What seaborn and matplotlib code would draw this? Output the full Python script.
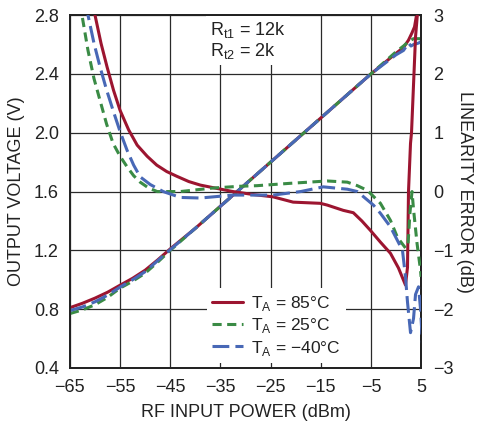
import matplotlib
matplotlib.use("Agg")
import matplotlib.pyplot as plt
import seaborn as sns

# output voltage (left axis, V)
x_red_v = [-65, -62.5, -60, -57.5, -55, -52.5, -50, -47.5, -45, -40, -35, -30, -25, -20, -15, -10, -5, 0,
           1.5, 2.5, 3.2, 3.7, 4.1, 4.4]
v_red = [0.81, 0.84, 0.875, 0.915, 0.963, 1.01, 1.065, 1.135, 1.21, 1.35, 1.50, 1.65, 1.80, 1.95, 2.10,
         2.25, 2.40, 2.54, 2.58, 2.63, 2.68, 2.72, 2.80, 2.90]
x_grn_v = [-65, -62.5, -60, -57.5, -55, -52.5, -50, -47.5, -45, -40, -35, -30, -25, -20, -15, -10, -5, 0,
           1.5, 2.5, 3.5, 5]
v_grn = [0.77, 0.795, 0.83, 0.88, 0.943, 0.99, 1.045, 1.12, 1.20, 1.35, 1.50, 1.65, 1.80, 1.95, 2.10,
         2.25, 2.40, 2.55, 2.59, 2.62, 2.64, 2.64]
x_blu_v = [-65, -62.5, -60, -57.5, -55, -52.5, -50, -47.5, -45, -40, -35, -30, -25, -20, -15, -10, -5, 0,
           1.5, 2.5, 3.0, 3.5, 4.5, 5]
v_blu = [0.79, 0.815, 0.85, 0.895, 0.95, 1.0, 1.055, 1.13, 1.205, 1.35, 1.50, 1.65, 1.80, 1.95, 2.10,
         2.25, 2.40, 2.53, 2.56, 2.61, 2.59, 2.60, 2.61, 2.62]

# linearity error (right axis, dB)
x_red_e = [-60.3, -60, -58.8, -57.6, -56.3, -55, -53.3, -51.6, -49.6, -47.7, -45.7, -43.7, -41.3, -39,
           -35.5, -32.5, -28.5, -24.5, -20.5, -15.1, -13.7, -10.5, -8.5, -6.8, -5.1, -3.1, -1.1, 0.5, 1.9,
           2.3, 2.5, 2.9, 3.1, 3.9, 4.5]
e_red = [3.2, 3.0, 2.52, 2.12, 1.72, 1.38, 1.05, 0.79, 0.6, 0.45, 0.34, 0.26, 0.17, 0.11,
         0.05, 0.0, -0.05, -0.09, -0.18, -0.2, -0.23, -0.32, -0.36, -0.5, -0.66, -0.86, -1.05, -1.3, -1.59,
         -1.29, 0.0, 0.82, 1.0, 2.63, 3.25]
x_grn_e = [-62.8, -62.6, -61.4, -60.2, -59, -57.7, -56.4, -55, -53.6, -52.3, -51, -49.3, -47.6, -43, -36.5,
           -31.1, -27.7, -21.1, -13.7, -9.7, -7.7, -5.7, -3.1, -1.1, 0.3, 1.9, 2.4, 2.8, 3.2, 3.5, 4.2, 4.9,
           5.0]
e_grn = [3.2, 3.0, 2.4, 1.92, 1.55, 1.15, 0.82, 0.6, 0.42, 0.27, 0.16, 0.06, 0.0, 0.0, 0.06,
         0.09, 0.10, 0.14, 0.18, 0.16, 0.1, 0.02, -0.2, -0.49, -0.78, -0.96, -0.9, -0.35, 0.0, -0.3, -0.88,
         -1.34, -1.45]
x_blu_e = [-61.6, -61.4, -60.2, -59, -57.7, -56.4, -55, -53.6, -52.3, -51, -49, -46.4, -43, -39, -32.5,
           -24.5, -19, -14.5, -9.7, -7.7, -4.5, -3.1, -1.1, 1.3, 1.9, 2.3, 2.9, 3.5, 3.9, 4.5, 4.9, 5.3]
e_blu = [3.2, 3.0, 2.52, 2.12, 1.73, 1.38, 1.02, 0.7, 0.45, 0.25, 0.12, 0.0, -0.1, -0.11, -0.06,
         -0.06, 0.0, 0.08, 0.04, 0.0, -0.23, -0.37, -0.6, -1.0, -1.45, -1.88, -2.4, -2.16, -1.75, -1.62,
         -2.0, -2.6]

labels = ["T$_\\mathregular{A}$ = 85°C", "T$_\\mathregular{A}$ = 25°C", "T$_\\mathregular{A}$ = \u221240°C"]
colors = ["#9C1530", "#3A8B45", "#4868B6"]

sns.set_style("white")
plt.rcParams['font.family'] = ['Liberation Sans', 'DejaVu Sans']
plt.rcParams['mathtext.fontset'] = 'custom'
plt.rcParams['mathtext.rm'] = 'Liberation Sans'
plt.rcParams['axes.unicode_minus'] = True

fig = plt.figure(figsize=(4.79, 4.21), dpi=100)
ax = fig.add_axes([0.146, 0.126, 0.733, 0.838])
ax2 = ax.twinx()

styles = ["-", (0, (3.0, 1.8)), (0, (5.5, 2.0))]
volt = [(x_red_v, v_red), (x_grn_v, v_grn), (x_blu_v, v_blu)]
err = [(x_red_e, e_red), (x_grn_e, e_grn), (x_blu_e, e_blu)]

handles = []
for (xv, yv), c, ls in zip(volt, colors, styles):
    sns.lineplot(x=xv, y=yv, ax=ax, color=c, linestyle=ls, linewidth=2.2,
                 sort=False, estimator=None, zorder=3)
    handles.append(ax.lines[-1])
for (xe, ye), c, ls in zip(err, colors, styles):
    sns.lineplot(x=xe, y=ye, ax=ax2, color=c, linestyle=ls, linewidth=2.2,
                 sort=False, estimator=None, zorder=3)

ax.set_xlim(-65, 5)
ax.set_ylim(0.4, 2.8)
ax2.set_ylim(-3, 3)
ax.set_xticks(range(-65, 6, 10))
ax.set_yticks([0.4, 0.8, 1.2, 1.6, 2.0, 2.4, 2.8])
ax.set_yticklabels(["0.4", "0.8", "1.2", "1.6", "2.0", "2.4", "2.8"])
ax2.set_yticks([-3, -2, -1, 0, 1, 2, 3])

ax.grid(True, color="#2a2a2a", linewidth=0.9)
ax.set_axisbelow(True)
for a in (ax, ax2):
    for s in a.spines.values():
        s.set_color("#222222")
        s.set_linewidth(1.3)
ax.tick_params(axis="x", direction="in", length=4, width=0.9, labelsize=13, colors="#222222", pad=8)
ax.tick_params(axis="y", direction="in", length=0, labelsize=13, colors="#222222", pad=8)
ax2.tick_params(axis="y", direction="in", length=0, labelsize=13, colors="#222222", pad=9)

ax.set_xlabel("RF INPUT POWER (dBm)", fontsize=13, color="#222222", labelpad=6)
ax.set_ylabel("OUTPUT VOLTAGE (V)", fontsize=13, color="#222222", labelpad=6)
ax2.set_ylabel("LINEARITY ERROR (dB)", fontsize=13, color="#222222", rotation=270, labelpad=14)

ax2.text(0.40, 0.985, "R$_\\mathregular{t1}$ = 12k\nR$_\\mathregular{t2}$ = 2k", transform=ax2.transAxes,
         ha="left", va="top", fontsize=13, color="#222222", linespacing=1.05,
         bbox=dict(facecolor="white", edgecolor="none", pad=3), zorder=5)

leg = ax2.legend(handles, labels, loc="lower left", bbox_to_anchor=(0.375, 0.0),
                 frameon=True, fontsize=12.5, handlelength=1.8, handletextpad=0.45,
                 labelspacing=0.2, borderpad=0.3, borderaxespad=0.3)
leg.get_frame().set_facecolor("white")
leg.get_frame().set_edgecolor("none")
leg.get_frame().set_alpha(1.0)
leg.set_zorder(10)
for t in leg.get_texts():
    t.set_color("#222222")

fig.savefig("out.png", dpi=100)
